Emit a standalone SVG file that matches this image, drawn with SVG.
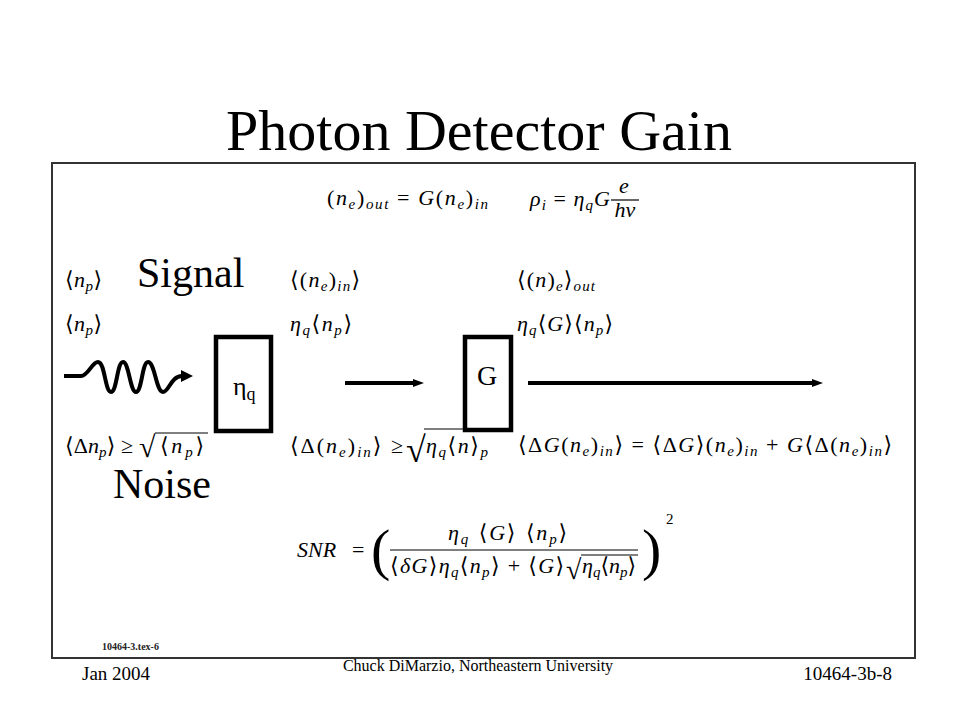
<svg xmlns="http://www.w3.org/2000/svg" width="960" height="720" viewBox="0 0 960 720">
<style>
.title{font-family:"Liberation Serif",serif;font-size:58px;fill:#000}
.lbl{font-family:"Liberation Serif",serif;font-size:42px;fill:#000}
.foot{font-family:"Liberation Serif",serif;font-size:19px;fill:#000}
.foot2{font-family:"Liberation Serif",serif;font-size:16px;fill:#000}
.tag{font-family:"Liberation Serif",serif;font-size:10px;font-weight:bold;fill:#222}
.m{font-family:"Liberation Serif","DejaVu Serif",serif;font-size:22px;font-style:italic;fill:#000}
.r{font-style:normal}
.a{font-family:"DejaVu Serif","DejaVu Sans",serif;font-style:normal}
.s{font-size:15px}
.box{fill:none;stroke:#000;stroke-width:4.5}
.wire{fill:none;stroke:#000;stroke-width:4}
.vin{stroke:#000;stroke-width:1.2}
.sym{font-family:"Liberation Serif",serif;fill:#000}
</style>
<rect x="52" y="163" width="863" height="495" fill="none" stroke="#333" stroke-width="2"/>
<text class="title" x="479" y="150" text-anchor="middle">Photon Detector Gain</text>

<g id="formulas">
<text class="m" x="327" y="205" textLength="161" lengthAdjust="spacing"><tspan class="r">(</tspan>n<tspan class="s" dy="4">e</tspan><tspan class="r" dy="-4">)</tspan><tspan class="s" dy="4">out</tspan><tspan class="r" dy="-4"> = </tspan>G<tspan class="r">(</tspan>n<tspan class="s" dy="4">e</tspan><tspan class="r" dy="-4">)</tspan><tspan class="s" dy="4">in</tspan></text>
<text class="m" x="530" y="206" textLength="80" lengthAdjust="spacing">ρ<tspan class="s" dy="4">i</tspan><tspan class="r" dy="-4"> = </tspan>η<tspan class="s" dy="4">q</tspan><tspan dy="-4">G</tspan></text>
<text class="m" x="624" y="193" text-anchor="middle">e</text>
<line class="vin" x1="611" y1="200" x2="639" y2="200"/>
<text class="m" x="625" y="217" text-anchor="middle">hν</text>

<text class="m" x="65" y="287" textLength="37" lengthAdjust="spacing"><tspan class="a">⟨</tspan>n<tspan class="s" dy="4">p</tspan><tspan class="a" dy="-4">⟩</tspan></text>
<text class="m" x="290" y="287" textLength="70" lengthAdjust="spacing"><tspan class="a">⟨</tspan><tspan class="r">(</tspan>n<tspan class="s" dy="4">e</tspan><tspan class="r" dy="-4">)</tspan><tspan class="s" dy="4">in</tspan><tspan class="a" dy="-4">⟩</tspan></text>
<text class="m" x="517" y="287" textLength="78" lengthAdjust="spacing"><tspan class="a">⟨</tspan><tspan class="r">(</tspan>n<tspan class="r">)</tspan><tspan class="s" dy="4">e</tspan><tspan class="a" dy="-4">⟩</tspan><tspan class="s" dy="4">out</tspan></text>

<text class="m" x="65" y="331" textLength="37" lengthAdjust="spacing"><tspan class="a">⟨</tspan>n<tspan class="s" dy="4">p</tspan><tspan class="a" dy="-4">⟩</tspan></text>
<text class="m" x="290" y="331" textLength="62" lengthAdjust="spacing">η<tspan class="s" dy="4">q</tspan><tspan class="a" dy="-4">⟨</tspan>n<tspan class="s" dy="4">p</tspan><tspan class="a" dy="-4">⟩</tspan></text>
<text class="m" x="517" y="331" textLength="96" lengthAdjust="spacing">η<tspan class="s" dy="4">q</tspan><tspan class="a" dy="-4">⟨</tspan>G<tspan class="a">⟩⟨</tspan>n<tspan class="s" dy="4">p</tspan><tspan class="a" dy="-4">⟩</tspan></text>

<text class="m" x="65" y="453" textLength="68" lengthAdjust="spacing"><tspan class="a">⟨</tspan><tspan class="r">Δ</tspan>n<tspan class="s" dy="4">p</tspan><tspan class="a" dy="-4">⟩</tspan><tspan class="r"> ≥</tspan></text>
<text class="sym" x="139" y="457" font-size="30">√</text>
<line class="vin" x1="155" y1="433" x2="208" y2="433"/>
<text class="m" x="160" y="453" textLength="44" lengthAdjust="spacing"><tspan class="a">⟨</tspan>n<tspan class="s" dy="4">p</tspan><tspan class="a" dy="-4">⟩</tspan></text>

<text class="m" x="290" y="453" textLength="113" lengthAdjust="spacing"><tspan class="a">⟨</tspan><tspan class="r">Δ(</tspan>n<tspan class="s" dy="4">e</tspan><tspan class="r" dy="-4">)</tspan><tspan class="s" dy="4">in</tspan><tspan class="a" dy="-4">⟩</tspan><tspan class="r"> ≥</tspan></text>
<text class="sym" x="406" y="462" font-size="36">√</text>
<line class="vin" x1="424" y1="429" x2="489" y2="429"/>
<text class="m" x="426" y="453" textLength="62" lengthAdjust="spacing">η<tspan class="s" dy="4">q</tspan><tspan class="a" dy="-4">⟨</tspan>n<tspan class="a">⟩</tspan><tspan class="s" dy="4">p</tspan></text>

<text class="m" x="518" y="452" textLength="374" lengthAdjust="spacing"><tspan class="a">⟨</tspan><tspan class="r">Δ</tspan>G<tspan class="r">(</tspan>n<tspan class="s" dy="4">e</tspan><tspan class="r" dy="-4">)</tspan><tspan class="s" dy="4">in</tspan><tspan class="a" dy="-4">⟩</tspan><tspan class="r"> = </tspan><tspan class="a">⟨</tspan><tspan class="r">Δ</tspan>G<tspan class="a">⟩</tspan><tspan class="r">(</tspan>n<tspan class="s" dy="4">e</tspan><tspan class="r" dy="-4">)</tspan><tspan class="s" dy="4">in</tspan><tspan class="r" dy="-4"> + </tspan>G<tspan class="a">⟨</tspan><tspan class="r">Δ(</tspan>n<tspan class="s" dy="4">e</tspan><tspan class="r" dy="-4">)</tspan><tspan class="s" dy="4">in</tspan><tspan class="a" dy="-4">⟩</tspan></text>

<text class="m" x="297" y="557">SNR</text>
<text class="m r" x="352" y="557">=</text>
<text class="sym" x="371" y="569" font-size="58">(</text>
<text class="m" x="448" y="540" textLength="119" lengthAdjust="spacing">η<tspan class="s" dy="4">q</tspan><tspan class="a" dy="-4"> ⟨</tspan>G<tspan class="a">⟩ ⟨</tspan>n<tspan class="s" dy="4">p</tspan><tspan class="a" dy="-4">⟩</tspan></text>
<line class="vin" x1="390" y1="550" x2="638" y2="550"/>
<text class="m" x="390" y="573" textLength="174" lengthAdjust="spacing"><tspan class="a">⟨</tspan>δG<tspan class="a">⟩</tspan>η<tspan class="s" dy="4">q</tspan><tspan class="a" dy="-4">⟨</tspan>n<tspan class="s" dy="4">p</tspan><tspan class="a" dy="-4">⟩</tspan><tspan class="r"> + </tspan><tspan class="a">⟨</tspan>G<tspan class="a">⟩</tspan></text>
<text class="sym" x="566" y="579" font-size="28">√</text>
<line class="vin" x1="581" y1="555" x2="638" y2="555"/>
<text class="m" x="582" y="573">η<tspan class="s" dy="4">q</tspan><tspan class="a" dy="-4">⟨</tspan>n<tspan class="s" dy="4">p</tspan><tspan class="a" dy="-4">⟩</tspan></text>
<text class="sym" x="642" y="569" font-size="58">)</text>
<text class="sym" x="666" y="524" font-size="15">2</text>
</g>

<g id="signal-label"><text class="lbl" x="137" y="287">Signal</text></g>
<g id="noise-label"><text class="lbl" x="113" y="498">Noise</text></g>

<g id="photon">
<path class="wire" d="M64,376 L81,376 C88,376 92,362 98,362 C105,362 105,392 111,392 C117,392 117,362 123,362 C129,362 130,392 136,392 C142,392 142,362 148,362 C155,362 156,392 163,392 C169,392 171,376 182,376"/>
<polygon points="181,370 193,376 181,382" fill="#000"/>
</g>

<g id="detector">
<rect class="box" x="216" y="337" width="55" height="94"/>
<text class="sym" x="233" y="395" font-size="26">η<tspan font-size="18" dy="5">q</tspan></text>
</g>

<g id="gain">
<rect class="box" x="465" y="337" width="46" height="93"/>
<text class="sym" x="487" y="385" font-size="28" text-anchor="middle">G</text>
</g>

<g id="connectors">
<line class="wire" x1="345" y1="383" x2="415" y2="383"/>
<polygon points="413,379 424,383 413,387" fill="#000"/>
<line class="wire" x1="528" y1="383" x2="814" y2="383"/>
<polygon points="812,379 823,383 812,387" fill="#000"/>
</g>

<text class="tag" x="102" y="650">10464-3.tex-6</text>
<text class="foot" x="82" y="680">Jan 2004</text>
<text class="foot2" x="478" y="671" text-anchor="middle">Chuck DiMarzio, Northeastern University</text>
<text class="foot" x="892" y="680" text-anchor="end">10464-3b-8</text>
</svg>
